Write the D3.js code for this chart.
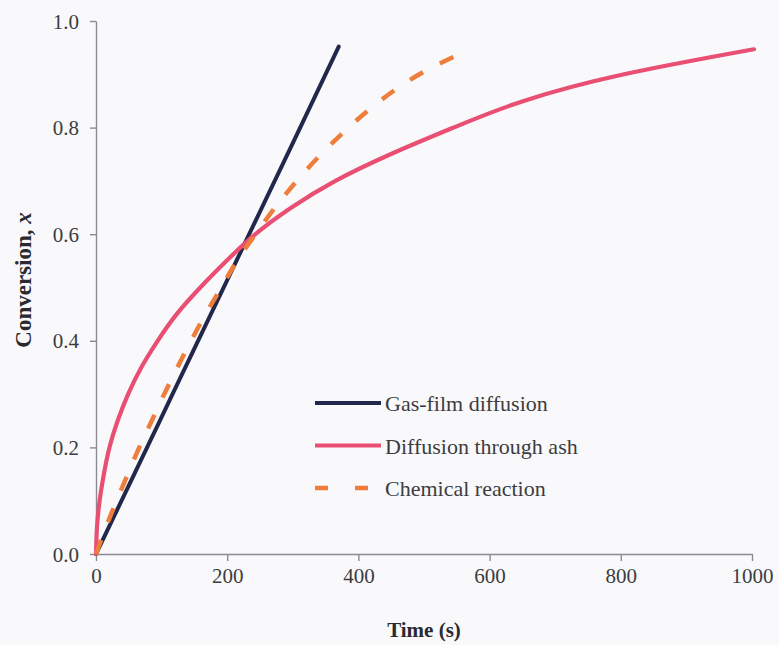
<!DOCTYPE html>
<html>
<head>
<meta charset="utf-8">
<script src="https://cdn.jsdelivr.net/npm/d3@7"></script>
<style>
  body { margin: 0; background: #f9f9fc; }
</style>
</head>
<body>
<div id="vis"></div>
<script>
var serif = "'Liberation Serif', 'Times New Roman', 'DejaVu Serif', serif";

// values
var xTicks = [0, 200, 400, 600, 800, 1000];
var yTicks = [0.0, 0.2, 0.4, 0.6, 0.8, 1.0];

var gasTime = [0, 100, 200, 300, 370];
var gasConv = [0, 0.257, 0.514, 0.771, 0.952];

var ashTime = [0, 1.5, 5.5, 12, 20.5, 33, 49, 69, 94, 123, 159, 199, 243, 298, 365, 449, 545, 652, 805, 1003];
var ashConv = [0, 0.05, 0.1, 0.15, 0.2, 0.25, 0.3, 0.35, 0.4, 0.45, 0.5, 0.55, 0.6, 0.65, 0.7, 0.75, 0.8, 0.85, 0.9, 0.947];

var chemTime = [0, 15, 31.5, 48.5, 66, 85, 104, 124, 145, 167, 191, 215, 243, 273, 306, 343, 385, 433, 493, 558];
var chemConv = [0, 0.05, 0.1, 0.15, 0.2, 0.25, 0.3, 0.35, 0.4, 0.45, 0.5, 0.55, 0.6, 0.65, 0.7, 0.75, 0.8, 0.85, 0.9, 0.94];

var seriesNames = ["Gas-film diffusion", "Diffusion through ash", "Chemical reaction"];

var margin = { top: 21, right: 27, bottom: 91, left: 96 };
var width = 779 - margin.left - margin.right,
    height = 645 - margin.top - margin.bottom;

var svg = d3.select("#vis")
    .append("svg")
    .attr("width", width + margin.left + margin.right)
    .attr("height", height + margin.top + margin.bottom)
    .append("g")
    .attr("transform", "translate(" + margin.left + "," + margin.top + ")");

var x = d3.scaleLinear().domain([0, 1000]).range([0, width]);
var y = d3.scaleLinear().domain([0, 1]).range([height, 0]);

var series = [
    { name: seriesNames[0], t: gasTime, c: gasConv, color: "#22284c", w: 4, dash: null },
    { name: seriesNames[1], t: ashTime, c: ashConv, color: "#e94f73", w: 4.2, dash: null },
    { name: seriesNames[2], t: chemTime, c: chemConv, color: "#ef7d3b", w: 4.5, dash: "15,19" }
];

//axes
{
    var xAxis = d3.axisBottom(x)
        .tickValues(xTicks)
        .tickSize(7)
        .tickSizeOuter(0)
        .tickFormat(d3.format("d"));

    var yAxis = d3.axisLeft(y)
        .tickValues(yTicks)
        .tickSize(6)
        .tickSizeOuter(0)
        .tickFormat(d3.format(".1f"));

    var gx = svg.append("g")
        .attr("class", "x axis")
        .attr("transform", "translate(0," + height + ")")
        .call(xAxis);

    var gy = svg.append("g")
        .attr("class", "y axis")
        .call(yAxis);

    svg.selectAll(".axis path, .axis line")
        .attr("stroke", "#8a8a90")
        .attr("stroke-width", 1.4);

    svg.selectAll(".axis")
        .attr("font-family", serif);

    svg.selectAll(".axis text")
        .attr("fill", "#3c3c40")
        .style("font-family", serif)
        .style("font-size", "21px");

    gx.selectAll("text").attr("y", 29).attr("dy", 0);
    gy.selectAll("text").attr("x", -17).attr("dy", "0.34em");

    svg.append("text")
        .attr("x", width / 2)
        .attr("y", height + 83)
        .attr("text-anchor", "middle")
        .style("font-family", serif)
        .style("font-size", "21px")
        .style("font-weight", "bold")
        .attr("fill", "#2a2a2e")
        .text("Time (s)");

    var yl = svg.append("text")
        .attr("transform", "translate(" + (31 - margin.left) + "," + 259 + ") rotate(-90)")
        .attr("text-anchor", "middle")
        .style("font-family", serif)
        .style("font-size", "23px")
        .style("font-weight", "bold")
        .attr("fill", "#2a2a2e");
    yl.append("tspan").text("Conversion, ");
    yl.append("tspan").style("font-style", "italic").text("x");
}

var line = d3.line()
    .x(d => x(d[0]))
    .y(d => y(d[1]))
    .curve(d3.curveNatural);

svg.selectAll(".series")
    .data(series)
    .enter()
    .append("path")
    .attr("class", "series")
    .attr("fill", "none")
    .attr("stroke", d => d.color)
    .attr("stroke-width", d => d.w)
    .attr("stroke-dasharray", d => d.dash)
    .attr("stroke-linecap", d => d.dash ? "butt" : "round")
    .attr("stroke-linejoin", "round")
    .attr("d", d => line(d.t.map((t, i) => [t, d.c[i]])));

// legend
var legend = svg.selectAll(".legend")
    .data(series)
    .enter().append("g")
    .attr("class", "legend")
    .attr("transform", (d, i) => "translate(219," + (382 + i * 42.5) + ")");

legend.append("line")
    .attr("x1", 0)
    .attr("x2", d => d.dash ? 53 : 66)
    .attr("stroke", d => d.color)
    .attr("stroke-width", d => d.w)
    .attr("stroke-dasharray", d => d.dash ? "13,27" : null);

legend.append("text")
    .attr("x", 70)
    .attr("y", 8)
    .attr("fill", "#3c3c40")
    .style("font-family", serif)
    .style("font-size", "22px")
    .text(d => d.name);
</script>
</body>
</html>
